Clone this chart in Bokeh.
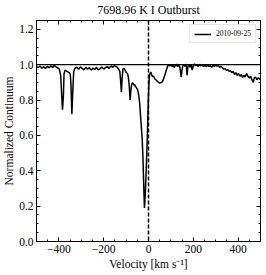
from bokeh.plotting import figure
from bokeh.models import (LinearAxis, Range1d, Span, CustomJSTickFormatter,
                          NumeralTickFormatter, FixedTicker, ColumnDataSource,
                          CustomLabelingPolicy)
from bokeh.embed import file_html
from bokeh.resources import INLINE

title_text = "7698.96 K I Outburst"
series_label = "2010-09-25"
continuum_level = 1.0
rest_velocity = 0.0
x_ticks = [-400, -200, 0, 200, 400]
y_ticks = [0.0, 0.2, 0.4, 0.6, 0.8, 1.0, 1.2]

velocity = [
    -500, -492, -484, -476, -468, -460, -452, -444, -436, -428, -420, -412, -404, -398,
    -392, -388, -384, -380, -377, -372, -366, -360, -354, -349,
    -346, -342, -338, -334, -328,
    -320, -312, -304, -296, -288, -280, -272, -264, -256, -248, -240, -232, -224, -216,
    -208, -200, -192, -184, -176, -168, -160, -152, -146, -140,
    -134, -128, -124, -121, -118, -114, -110, -106, -100, -94, -90, -86, -82, -79, -75,
    -71, -66, -62, -58, -54, -50, -47, -44, -40, -36, -32, -28, -25, -22, -20, -18,
    -15, -12, -9, -6, -3, 0, 3, 6, 10, 14, 18, 22, 26, 30, 35, 40, 45, 50, 55, 60,
    65, 70, 75, 80, 85, 90,
    95, 100, 105, 110, 115, 120, 125, 130, 135, 140, 146, 150, 154, 158, 163, 168,
    172, 176, 180, 185, 190, 195, 200, 205, 210, 216, 222, 228, 234, 240, 246, 252,
    258, 264, 270, 276, 282, 288, 294, 300, 306, 312, 318, 324, 330, 336, 342, 348,
    354, 360, 366, 372, 378, 384, 390, 396, 402, 408, 414, 420, 426, 432, 438, 444,
    450, 456, 460, 464, 468, 472, 478, 484, 490, 496, 500,
]
flux = [
    0.990, 0.984, 0.992, 0.980, 0.988, 0.978, 0.990, 0.983, 0.993, 0.985, 0.995, 0.987, 0.981, 0.975,
    0.940, 0.840, 0.745, 0.820, 0.950, 0.970, 0.963, 0.960, 0.955, 0.945,
    0.880, 0.720, 0.850, 0.960, 0.980,
    0.986, 0.974, 0.988, 0.979, 0.971, 0.985, 0.975, 0.983, 0.969, 0.981, 0.973, 0.985, 0.970, 0.978,
    0.987, 0.975, 0.983, 0.989, 0.979, 0.993, 0.985, 0.996, 0.990, 0.986,
    0.976, 0.962, 0.900, 0.845, 0.920, 0.975, 0.980, 0.972, 0.957, 0.950, 0.930, 0.880, 0.800, 0.850, 0.890,
    0.898, 0.886, 0.888, 0.876, 0.871, 0.862, 0.850, 0.830, 0.790, 0.720, 0.650, 0.576, 0.480, 0.350, 0.260, 0.190,
    0.250, 0.350, 0.450, 0.560, 0.700, 0.830, 0.920, 0.950, 0.958, 0.945, 0.932, 0.935, 0.925, 0.918, 0.912, 0.905, 0.900, 0.896, 0.898, 0.902,
    0.912, 0.930, 0.950, 0.972, 0.990, 1.000,
    0.992, 1.001, 0.990, 0.998, 0.984, 0.996, 1.003, 0.989, 0.998, 0.986, 0.930, 0.975, 0.996, 1.001, 0.990, 1.004,
    0.940, 0.990, 1.002, 0.986, 1.001, 0.970, 0.994, 1.005, 0.995, 1.000, 0.990, 1.002, 0.993, 1.000, 0.990, 0.997,
    0.988, 0.998, 0.990, 0.995, 0.985, 0.996, 0.990, 0.998, 0.992, 0.995, 0.985, 0.990, 0.983, 0.975, 0.978, 0.968,
    0.972, 0.962, 0.966, 0.955, 0.962, 0.945, 0.955, 0.940, 0.950, 0.935, 0.945, 0.928, 0.940, 0.930, 0.950, 0.935,
    0.925, 0.935, 0.920, 0.910, 0.900, 0.925, 0.930, 0.915, 0.925, 0.920, 0.915,
]

src = ColumnDataSource(data=dict(velocity=velocity, flux=flux))

FONT = "Liberation Serif"

p = figure(frame_width=224, frame_height=221, x_range=Range1d(-500, 500), y_range=Range1d(0, 1.25),
           output_backend="svg", toolbar_location=None,
           min_border_left=0, min_border_right=0, min_border_top=0, min_border_bottom=0)

p.title.text = title_text
p.title.align = "center"
p.title.text_font = FONT
p.title.text_font_style = "normal"
p.title.text_font_size = "12px"
p.title.text_color = "black"
p.title.standoff = 0
p.title.offset = 0

p.xgrid.visible = False
p.ygrid.visible = False
p.outline_line_color = "black"
p.outline_line_width = 1
p.background_fill_color = "white"
p.border_fill_color = "white"

xt = FixedTicker(ticks=x_ticks, minor_ticks=list(range(-500, 501, 50)))
yt = FixedTicker(ticks=y_ticks, minor_ticks=[i * 0.05 for i in range(26)])

xfmt = CustomJSTickFormatter(code="return tick < 0 ? '\\u2212' + Math.abs(tick) : String(tick);")
hide_all = CustomLabelingPolicy(code="const arr = [...indices]; for (const i of arr) indices.unset(i); return indices;")

def style_axis(ax, labels=True):
    ax.major_tick_in = 4
    ax.major_tick_out = 0
    ax.minor_tick_in = 2
    ax.minor_tick_out = 0
    ax.axis_line_color = "black"
    ax.major_tick_line_color = "black"
    ax.minor_tick_line_color = "black"
    if labels:
        ax.major_label_text_font = FONT
        ax.major_label_text_font_size = "11.5px"
        ax.major_label_text_color = "black"
        ax.major_label_standoff = 3
        ax.axis_label_text_font = FONT
        ax.axis_label_text_font_style = "normal"
        ax.axis_label_text_font_size = "11.5px"
        ax.axis_label_text_color = "black"
        ax.axis_label_standoff = 1
    else:
        ax.major_label_text_font_size = "1px"
        ax.major_label_standoff = 0
        ax.major_label_policy = hide_all

p.xaxis.ticker = xt
p.yaxis.ticker = yt
p.xaxis.formatter = xfmt
p.yaxis.formatter = NumeralTickFormatter(format="0.0")
p.xaxis.axis_label = "Velocity [km s\u207b\u00b9]"
p.yaxis.axis_label = "Normalized Continuum"
style_axis(p.xaxis[0])
style_axis(p.yaxis[0])
p.xaxis[0].axis_label_standoff = 2

top_ax = LinearAxis(ticker=xt)
right_ax = LinearAxis(ticker=yt)
style_axis(top_ax, labels=False)
style_axis(right_ax, labels=False)
p.add_layout(top_ax, "above")
p.add_layout(right_ax, "right")

p.add_layout(Span(location=continuum_level, dimension="width", line_color="black", line_width=1.3))
p.add_layout(Span(location=rest_velocity, dimension="height", line_color="black",
                  line_width=1.5, line_dash="4 2"))

p.line("velocity", "flux", source=src, line_color="black", line_width=1.5,
       legend_label=series_label)

lg = p.legend[0]
lg.location = "top_right"
lg.label_text_font = FONT
lg.label_text_font_size = "7.5px"
lg.label_text_color = "black"
lg.glyph_width = 17
lg.glyph_height = 8
lg.label_height = 8
lg.label_standoff = 5
lg.padding = 4
lg.margin = 4
lg.spacing = 0
lg.border_line_color = "#cccccc"
lg.border_line_width = 1
lg.background_fill_alpha = 1.0

open("out.html", "w").write(file_html(p, INLINE))
